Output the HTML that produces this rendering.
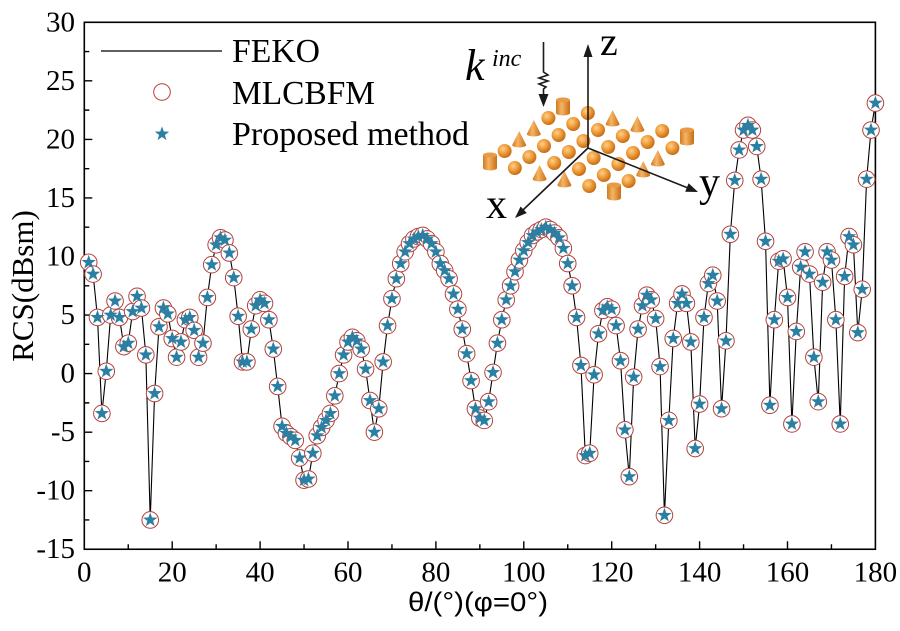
<!DOCTYPE html>
<html>
<head>
<meta charset="utf-8">
<style>
html,body{margin:0;padding:0;background:#fff;}
svg{display:block;}
.t{font-family:"Liberation Serif","DejaVu Serif",serif;fill:#000;}
.s{font-family:"Liberation Sans","DejaVu Sans",sans-serif;fill:#000;}
</style>
</head>
<body>
<svg width="900" height="631" viewBox="0 0 900 631" xmlns="http://www.w3.org/2000/svg">
<defs>
  <marker id="mc" markerUnits="userSpaceOnUse" markerWidth="1" markerHeight="1" refX="0" refY="0" orient="0" style="overflow:visible" overflow="visible">
    <g transform="scale(0.227531,-0.085397)">
      <circle r="8.3" fill="#fff" stroke="#b5413c" stroke-width="1"/>
    </g>
  </marker>
  <marker id="ms" markerUnits="userSpaceOnUse" markerWidth="1" markerHeight="1" refX="0" refY="0" orient="0" style="overflow:visible" overflow="visible">
    <g transform="scale(0.227531,-0.085397)">
      <path d="M0,-7.6 L1.8,-2.45 L7.2,-2.35 L2.9,0.95 L4.45,6.1 L0,3.05 L-4.45,6.1 L-2.9,0.95 L-7.2,-2.35 L-1.8,-2.45 Z" fill="#2d7fa2"/>
    </g>
  </marker>
  <radialGradient id="sg" cx="0.38" cy="0.35" r="0.7">
    <stop offset="0" stop-color="#ffd08a"/>
    <stop offset="0.45" stop-color="#f0a040"/>
    <stop offset="1" stop-color="#c0660e"/>
  </radialGradient>
  <linearGradient id="cg" x1="0" y1="0" x2="1" y2="0">
    <stop offset="0" stop-color="#d07a20"/>
    <stop offset="0.4" stop-color="#f5b565"/>
    <stop offset="1" stop-color="#c86d15"/>
  </linearGradient>
  <g id="sp"><circle r="7" fill="url(#sg)"/></g>
  <g id="co"><path d="M-7,5 L0,-9 L7,5 A7,2.5 0 0 1 -7,5 Z" fill="url(#cg)"/></g>
  <g id="cy"><path d="M-7,-7 L-7,6 A7,2.5 0 0 0 7,6 L7,-7 Z" fill="url(#cg)"/><ellipse cx="0" cy="-7" rx="7" ry="2.5" fill="#e89a45"/></g>
</defs>

<!-- inset illustration -->
<g>
  <use href="#cy" x="563" y="107"/>
  <use href="#sp" x="587.8" y="113"/>
  <use href="#sp" x="548.4" y="118"/>
  <use href="#co" x="612.6" y="119"/>
  <use href="#sp" x="573.2" y="124"/>
  <use href="#co" x="637.4" y="125"/>
  <use href="#co" x="533.8" y="129"/>
  <use href="#sp" x="598" y="130"/>
  <use href="#sp" x="662.2" y="131"/>
  <use href="#sp" x="558.6" y="135"/>
  <use href="#sp" x="622.8" y="136"/>
  <use href="#cy" x="687" y="137"/>
  <use href="#co" x="519.2" y="140"/>
  <use href="#sp" x="583.4" y="141"/>
  <use href="#sp" x="647.6" y="142"/>
  <use href="#sp" x="544" y="146"/>
  <use href="#sp" x="608.2" y="147"/>
  <use href="#sp" x="672.4" y="148"/>
  <use href="#sp" x="504.6" y="151"/>
  <use href="#sp" x="568.8" y="152"/>
  <use href="#sp" x="633" y="153"/>
  <use href="#sp" x="529.4" y="157"/>
  <use href="#sp" x="593.6" y="158"/>
  <use href="#co" x="657.8" y="159"/>
  <use href="#cy" x="490" y="162"/>
  <use href="#sp" x="554.2" y="163"/>
  <use href="#sp" x="618.4" y="164"/>
  <use href="#sp" x="514.8" y="168"/>
  <use href="#sp" x="579" y="169"/>
  <use href="#co" x="643.2" y="170"/>
  <use href="#co" x="539.6" y="174"/>
  <use href="#sp" x="603.8" y="175"/>
  <use href="#co" x="564.4" y="180"/>
  <use href="#sp" x="628.6" y="181"/>
  <use href="#sp" x="589.2" y="186"/>
  <use href="#cy" x="614" y="192"/>
  <!-- axes -->
  <g stroke="#1a1a1a" stroke-width="1.6" fill="none">
    <line x1="588" y1="148" x2="588" y2="56"/>
    <line x1="588" y1="148" x2="688" y2="188"/>
    <line x1="588" y1="148" x2="523" y2="210"/>
    <path d="M543.5,42 L543.5,72 L548,75 L539,78 L548,81 L539,84 L546,87 L543.5,89 L543.5,96"/>
  </g>
  <g fill="#1a1a1a">
    <polygon points="588,44 583.5,57 592.5,57"/>
    <polygon points="698,192 685.2,191.7 688.6,183.3"/>
    <polygon points="515,218 526.8,213 520.6,206.5"/>
    <polygon points="543.5,107 538.5,94 548.5,94"/>
  </g>
  <text class="t" x="600" y="55" font-size="40">z</text>
  <text class="t" x="699" y="196" font-size="42">y</text>
  <text class="t" x="486" y="218" font-size="42">x</text>
  <text class="t" x="465" y="80" font-size="44" font-style="italic">k</text>
  <text class="t" x="492" y="66" font-size="24" font-style="italic">inc</text>
</g>

<!-- frame -->
<rect x="84.3" y="22.3" width="791.1" height="526.95" fill="none" stroke="#000" stroke-width="1.6"/>

<!-- ticks -->
<path stroke="#000" stroke-width="1.4" fill="none" d="
M84.3,80.85 h8 M84.3,139.4 h8 M84.3,197.95 h8 M84.3,256.5 h8 M84.3,315.05 h8 M84.3,373.6 h8 M84.3,432.15 h8 M84.3,490.7 h8
M84.3,51.58 h5 M84.3,110.13 h5 M84.3,168.68 h5 M84.3,227.23 h5 M84.3,285.78 h5 M84.3,344.33 h5 M84.3,402.88 h5 M84.3,461.43 h5 M84.3,519.98 h5
M172.2,549.25 v-8 M260.1,549.25 v-8 M348,549.25 v-8 M435.9,549.25 v-8 M523.8,549.25 v-8 M611.7,549.25 v-8 M699.6,549.25 v-8 M787.5,549.25 v-8
M128.25,549.25 v-5 M216.15,549.25 v-5 M304.05,549.25 v-5 M391.95,549.25 v-5 M479.85,549.25 v-5 M567.75,549.25 v-5 M655.65,549.25 v-5 M743.55,549.25 v-5 M831.45,549.25 v-5"/>

<!-- y tick labels -->
<g class="t" font-size="29" text-anchor="end">
  <text x="75" y="31.5">30</text>
  <text x="75" y="90">25</text>
  <text x="75" y="148.5">20</text>
  <text x="75" y="207">15</text>
  <text x="75" y="265.5">10</text>
  <text x="75" y="324">5</text>
  <text x="75" y="382.6">0</text>
  <text x="75" y="441">-5</text>
  <text x="75" y="499.7">-10</text>
  <text x="75" y="558.2">-15</text>
</g>
<!-- x tick labels -->
<g class="t" font-size="29" text-anchor="middle">
  <text x="84.3" y="581.5">0</text>
  <text x="172.2" y="581.5">20</text>
  <text x="260.1" y="581.5">40</text>
  <text x="348" y="581.5">60</text>
  <text x="435.9" y="581.5">80</text>
  <text x="523.8" y="581.5">100</text>
  <text x="611.7" y="581.5">120</text>
  <text x="699.6" y="581.5">140</text>
  <text x="787.5" y="581.5">160</text>
  <text x="875.4" y="581.5">180</text>
</g>

<!-- axis titles -->
<text class="s" x="408" y="611" font-size="27" textLength="140" lengthAdjust="spacingAndGlyphs">θ/(°)(φ=0°)</text>
<text class="t" font-size="31" text-anchor="middle" transform="translate(33,286) rotate(-90)">RCS(dBsm)</text>

<!-- data -->
<g transform="translate(84.3,373.6) scale(4.395,-11.71)">
<polyline fill="none" stroke="#000" stroke-width="1.1" vector-effect="non-scaling-stroke" stroke-linejoin="round" points="1,9.5 2,8.5 3,4.8 4,-3.4 5,0.2 6,5 7,6.2 8,4.8 9,2.3 10,2.6 11,5.3 12,6.6 13,5.6 14,1.6 15,-12.5 16,-1.7 17,4 18,5.6 19,5.1 20,3 21,1.4 22,2.7 23,4.6 24,4.8 25,3.7 26,1.4 27,2.6 28,6.5 29,9.3 30,11 31,11.6 32,11.4 33,10.3 34,8.2 35,4.9 36,1 37,1 38,3.8 39,5.8 40,6.3 41,6 42,4.6 43,2.1 44,-1.1 45,-4.5 46,-5.1 47,-5.4 48,-5.7 49,-7.2 50,-9.1 51,-9 52,-6.8 53,-5.3 54,-4.6 55,-4 56,-3.4 57,-1.9 58,0 59,1.6 60,2.7 61,3.1 62,2.8 63,2.1 64,0.4 65,-2.3 66,-5 67,-3 68,1 69,4.1 70,6.4 71,8.1 72,9.4 73,10.4 74,11.1 75,11.5 76,11.7 77,11.8 78,11.5 79,11.1 80,10.4 81,9.4 82,8.8 83,8.1 84,6.8 85,5.5 86,3.8 87,1.7 88,-0.6 89,-3 90,-3.8 91,-4 92,-2.4 93,0.1 94,2.6 95,4.6 96,6.3 97,7.5 98,8.7 99,9.7 100,10.5 101,11.2 102,11.8 103,12.1 104,12.3 105,12.5 106,12.3 107,12 108,11.6 109,10.7 110,9.4 111,7.5 112,4.8 113,0.7 114,-7 115,-6.8 116,-0.1 117,3.4 118,5.4 119,5.7 120,5.5 121,4.1 122,1.1 123,-4.8 124,-8.8 125,-0.3 126,3.8 127,5.8 128,6.7 129,6.3 130,4.7 131,0.6 132,-12.1 133,-4 134,3 135,6 136,6.8 137,6 138,2.7 139,-6.4 140,-2.6 141,4.8 142,7.7 143,8.4 144,6.2 145,-3 146,2.8 147,11.9 148,16.5 149,19.1 150,20.8 151,21.2 152,20.8 153,19.4 154,16.6 155,11.3 156,-2.7 157,4.6 158,9.6 159,9.8 160,6.5 161,-4.3 162,3.6 163,9.1 164,10.4 165,8.5 166,1.4 167,-2.4 168,7.8 169,10.4 170,9.7 171,4.6 172,-4.3 173,8.3 174,11.7 175,11 176,3.5 177,7.2 178,16.6 179,20.8 180,23.1"/>
<polyline fill="none" stroke="none" marker-start="url(#mc)" marker-mid="url(#mc)" marker-end="url(#mc)" points="1,9.5 2,8.5 3,4.8 4,-3.4 5,0.2 6,5 7,6.2 8,4.8 9,2.3 10,2.6 11,5.3 12,6.6 13,5.6 14,1.6 15,-12.5 16,-1.7 17,4 18,5.6 19,5.1 20,3 21,1.4 22,2.7 23,4.6 24,4.8 25,3.7 26,1.4 27,2.6 28,6.5 29,9.3 30,11 31,11.6 32,11.4 33,10.3 34,8.2 35,4.9 36,1 37,1 38,3.8 39,5.8 40,6.3 41,6 42,4.6 43,2.1 44,-1.1 45,-4.5 46,-5.1 47,-5.4 48,-5.7 49,-7.2 50,-9.1 51,-9 52,-6.8 53,-5.3 54,-4.6 55,-4 56,-3.4 57,-1.9 58,0 59,1.6 60,2.7 61,3.1 62,2.8 63,2.1 64,0.4 65,-2.3 66,-5 67,-3 68,1 69,4.1 70,6.4 71,8.1 72,9.4 73,10.4 74,11.1 75,11.5 76,11.7 77,11.8 78,11.5 79,11.1 80,10.4 81,9.4 82,8.8 83,8.1 84,6.8 85,5.5 86,3.8 87,1.7 88,-0.6 89,-3 90,-3.8 91,-4 92,-2.4 93,0.1 94,2.6 95,4.6 96,6.3 97,7.5 98,8.7 99,9.7 100,10.5 101,11.2 102,11.8 103,12.1 104,12.3 105,12.5 106,12.3 107,12 108,11.6 109,10.7 110,9.4 111,7.5 112,4.8 113,0.7 114,-7 115,-6.8 116,-0.1 117,3.4 118,5.4 119,5.7 120,5.5 121,4.1 122,1.1 123,-4.8 124,-8.8 125,-0.3 126,3.8 127,5.8 128,6.7 129,6.3 130,4.7 131,0.6 132,-12.1 133,-4 134,3 135,6 136,6.8 137,6 138,2.7 139,-6.4 140,-2.6 141,4.8 142,7.7 143,8.4 144,6.2 145,-3 146,2.8 147,11.9 148,16.5 149,19.1 150,20.8 151,21.2 152,20.8 153,19.4 154,16.6 155,11.3 156,-2.7 157,4.6 158,9.6 159,9.8 160,6.5 161,-4.3 162,3.6 163,9.1 164,10.4 165,8.5 166,1.4 167,-2.4 168,7.8 169,10.4 170,9.7 171,4.6 172,-4.3 173,8.3 174,11.7 175,11 176,3.5 177,7.2 178,16.6 179,20.8 180,23.1"/>
<polyline fill="none" stroke="none" marker-start="url(#ms)" marker-mid="url(#ms)" marker-end="url(#ms)" points="1,9.5 2,8.5 3,4.8 4,-3.4 5,0.2 6,5 7,6.2 8,4.8 9,2.3 10,2.6 11,5.3 12,6.6 13,5.6 14,1.6 15,-12.5 16,-1.7 17,4 18,5.6 19,5.1 20,3 21,1.4 22,2.7 23,4.6 24,4.8 25,3.7 26,1.4 27,2.6 28,6.5 29,9.3 30,11 31,11.6 32,11.4 33,10.3 34,8.2 35,4.9 36,1 37,1 38,3.8 39,5.8 40,6.3 41,6 42,4.6 43,2.1 44,-1.1 45,-4.5 46,-5.1 47,-5.4 48,-5.7 49,-7.2 50,-9.1 51,-9 52,-6.8 53,-5.3 54,-4.6 55,-4 56,-3.4 57,-1.9 58,0 59,1.6 60,2.7 61,3.1 62,2.8 63,2.1 64,0.4 65,-2.3 66,-5 67,-3 68,1 69,4.1 70,6.4 71,8.1 72,9.4 73,10.4 74,11.1 75,11.5 76,11.7 77,11.8 78,11.5 79,11.1 80,10.4 81,9.4 82,8.8 83,8.1 84,6.8 85,5.5 86,3.8 87,1.7 88,-0.6 89,-3 90,-3.8 91,-4 92,-2.4 93,0.1 94,2.6 95,4.6 96,6.3 97,7.5 98,8.7 99,9.7 100,10.5 101,11.2 102,11.8 103,12.1 104,12.3 105,12.5 106,12.3 107,12 108,11.6 109,10.7 110,9.4 111,7.5 112,4.8 113,0.7 114,-7 115,-6.8 116,-0.1 117,3.4 118,5.4 119,5.7 120,5.5 121,4.1 122,1.1 123,-4.8 124,-8.8 125,-0.3 126,3.8 127,5.8 128,6.7 129,6.3 130,4.7 131,0.6 132,-12.1 133,-4 134,3 135,6 136,6.8 137,6 138,2.7 139,-6.4 140,-2.6 141,4.8 142,7.7 143,8.4 144,6.2 145,-3 146,2.8 147,11.9 148,16.5 149,19.1 150,20.8 151,21.2 152,20.8 153,19.4 154,16.6 155,11.3 156,-2.7 157,4.6 158,9.6 159,9.8 160,6.5 161,-4.3 162,3.6 163,9.1 164,10.4 165,8.5 166,1.4 167,-2.4 168,7.8 169,10.4 170,9.7 171,4.6 172,-4.3 173,8.3 174,11.7 175,11 176,3.5 177,7.2 178,16.6 179,20.8 180,23.1"/>
</g>

<!-- legend -->
<line x1="101" y1="51" x2="222" y2="51" stroke="#000" stroke-width="1.2"/>
<circle cx="162" cy="92" r="8.3" fill="#fff" stroke="#b5413c" stroke-width="1"/>
<path transform="translate(162,134)" d="M0,-7.6 L1.8,-2.45 L7.2,-2.35 L2.9,0.95 L4.45,6.1 L0,3.05 L-4.45,6.1 L-2.9,0.95 L-7.2,-2.35 L-1.8,-2.45 Z" fill="#2d7fa2"/>
<text class="t" x="232" y="62" font-size="34" textLength="88" lengthAdjust="spacingAndGlyphs">FEKO</text>
<text class="t" x="232" y="104" font-size="34" textLength="143" lengthAdjust="spacingAndGlyphs">MLCBFM</text>
<text class="t" x="232" y="145" font-size="34" textLength="237" lengthAdjust="spacingAndGlyphs">Proposed method</text>
</svg>
</body>
</html>
